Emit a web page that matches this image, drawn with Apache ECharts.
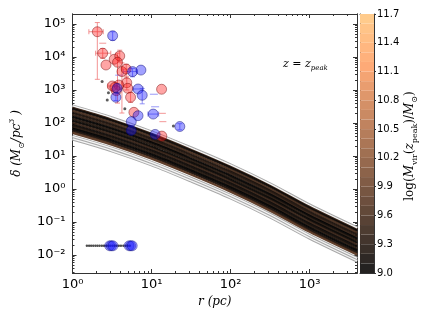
<!DOCTYPE html>
<html><head><meta charset="utf-8">
<script src="https://cdn.jsdelivr.net/npm/echarts@6/dist/echarts.min.js"></script>
<style>html,body{margin:0;padding:0;background:#fff}#c{width:431px;height:323px}</style>
</head><body><div id="c"></div>
<script>
// ---------- data ----------
const radii = [1, 3.2, 10, 32, 100, 320, 1000, 4000];
const darkProfiles = [
  [298,129,49,15.9,4.9,1.29,0.298,0.060],
  [266,115,43.8,14.1,4.38,1.15,0.266,0.054],
  [232,100,38.0,12.3,3.80,0.99,0.232,0.047],
  [201,87,33.0,10.7,3.30,0.87,0.201,0.041],
  [176,75.8,28.9,9.35,2.89,0.76,0.176,0.0355],
  [153,66,25.2,8.1,2.51,0.66,0.153,0.031],
  [133,57.5,21.9,7.1,2.19,0.575,0.133,0.027],
  [116,50,19.0,6.15,1.90,0.50,0.116,0.0235],
  [101,43.5,16.6,5.38,1.66,0.436,0.101,0.0205],
  [88,38,14.5,4.7,1.45,0.38,0.088,0.0178],
  [76.7,33,12.6,4.07,1.26,0.33,0.077,0.0155],
  [66.8,28.8,11.0,3.55,1.10,0.29,0.067,0.0135],
  [58,25,9.55,3.1,0.955,0.25,0.058,0.0118],
  [50.6,21.8,8.3,2.7,0.83,0.218,0.0506,0.0103]
];
const darkMass = [9.5, 9.1, 9.6, 9.2, 9.4, 9.0, 9.3, 9.05, 9.45, 9.1, 9.3, 9.0, 9.2, 9.75];
const lightProfiles = [
  [327,141,53.7,17.4,5.37,1.41,0.327,0.066],
  [39,16.9,6.4,2.08,0.64,0.169,0.039,0.0079],
  [32.7,14.1,5.4,1.74,0.54,0.141,0.0327,0.0066]
];

const redR = [2.06,2.41,2.65,3.37,3.96,3.71,4.22,4.78,4.86,5.0,3.19,3.85,3.57,3.44,5.43,5.98,13.4,13.5];
const redD = [58000,13000,5700,8500,10700,6900,3600,4300,1660,1120,1320,1410,950,1200,600,210,1050,40];
const redErr = [
  [1.61,2.45,2100,110000],[1.96,3.05,9000,18000],[null,null,null,null],[null,null,null,null],
  [null,null,7000,16000],[null,null,400,13000],[null,null,200,6600],[4.2,5.3,2300,6000],
  [null,null,1000,2600],[null,null,null,null],[2.8,3.6,null,null],[null,null,null,null],
  [null,null,null,null],[null,null,null,null],[null,null,420,850],[null,null,null,null],
  [null,null,null,null],[null,null,null,null]
];
const blueR = [3.22,5.75,7.34,6.75,7.62,3.67,3.54,6.75,10.5,5.54,5.54,11.1,22.8];
const blueD = [44000,3600,4000,1070,690,1120,600,166,186,110,59,45,78];
const blueErr = [
  [null,null,32000,58000],[4.4,6.5,2500,4500],[null,null,null,null],[5.8,7.8,null,null],
  [null,null,380,1100],[null,null,800,1500],[null,null,480,760],[null,null,null,null],
  [9.0,12.3,null,null],[null,null,null,null],[null,null,null,null],[null,null,null,null],
  [null,null,62,95]
];
const dotR = [2.37,2.85,2.75,4.59,18.9];
const dotD = [1800,830,500,270,81];
const redDashR = [2.41,13.7,13.9];
const redDashD = [26000,195,110];
const blueDashR = [10.7,11.1,3.9];
const blueDashD = [740,310,2800];
const rowD = 0.019;
const blueRowR = [2.95,3.1,3.25,5.2,5.45,5.7];
const blackRowR = [1.52,1.62,1.72,1.83,1.95,2.07,2.2,2.35,2.5,2.66,2.83,3.0,3.2,3.4,3.6,3.85,4.1,4.4,4.7,5.0,5.3];

const xMajor = [1,10,100,1000];
const xMajorLabels = ['10⁰','10¹','10²','10³'];
const yMajor = [0.01,0.1,1,10,100,1000,10000,100000];
const yMajorLabels = ['10⁻²','10⁻¹','10⁰','10¹','10²','10³','10⁴','10⁵'];
const cbLevels = [9.0,9.1,9.2,9.3,9.4,9.5,9.6,9.7,9.8,9.9,10.0,10.1,10.2,10.3,10.4,10.5,10.6,10.7,10.8,10.9,11.0,11.1,11.2,11.3,11.4,11.5,11.6,11.7];

// ---------- helpers ----------
const X_MIN = 1, X_MAX = 3981, Y_MIN = 0.00285, Y_MAX = 200000;
const MMIN = 9.0, MMAX = 11.7;
function copper(m, alpha) {
  const t = Math.max(0, Math.min(1, (m - MMIN) / (MMAX - MMIN)));
  let r = Math.min(1, 1.25 * t) * 255, g = 0.7812 * t * 255, b = 0.4975 * t * 255;
  if (alpha != null) { r = r*alpha + 255*(1-alpha); g = g*alpha + 255*(1-alpha); b = b*alpha + 255*(1-alpha); }
  return 'rgb(' + Math.round(r) + ',' + Math.round(g) + ',' + Math.round(b) + ')';
}
function minorTicks(lo, hi) {
  const out = [];
  for (let d = Math.floor(Math.log10(lo)) ; d <= Math.ceil(Math.log10(hi)); d++) {
    for (let k = 2; k <= 9; k++) { const v = k * Math.pow(10, d); if (v > lo * 1.001 && v < hi * 0.999) out.push(v); }
  }
  return out;
}
function labelFor(majors, labels) {
  return function (v) {
    for (let i = 0; i < majors.length; i++) if (Math.abs(Math.log10(v) - Math.log10(majors[i])) < 1e-6) return labels[i];
    return '';
  };
}
const AX = '#333';
function mkAxis(type, pos, min, max, ticks, len, withLabel, majors, labels, extra) {
  const a = {
    type: 'log', logBase: 10, min: min, max: max, position: pos, gridIndex: 0,
    axisLine: { show: true, onZero: false, lineStyle: { color: AX, width: 1 } },
    axisTick: { show: true, inside: true, length: len, customValues: ticks, lineStyle: { color: AX, width: 1 } },
    axisLabel: withLabel ? { show: true, customValues: majors, formatter: labelFor(majors, labels),
      fontFamily: 'DejaVu Sans', fontSize: 13, color: '#000', margin: type === 'x' ? 5 : 7 } : { show: false },
    splitLine: { show: false }, minorTick: { show: false }, minorSplitLine: { show: false }
  };
  return Object.assign(a, extra || {});
}
const xMinor = minorTicks(X_MIN, X_MAX);
const yMinor = minorTicks(Y_MIN, Y_MAX);

const xAxes = [
  mkAxis('x','bottom',X_MIN,X_MAX,xMajor,4,true,xMajor,xMajorLabels,{
    name: 'r (pc)', nameLocation: 'middle', nameGap: 21,
    nameTextStyle: { fontFamily: 'DejaVu Serif', fontStyle: 'italic', fontSize: 12, color: '#000' } }),
  mkAxis('x','bottom',X_MIN,X_MAX,xMinor,2,false),
  mkAxis('x','top',X_MIN,X_MAX,xMajor,4,false),
  mkAxis('x','top',X_MIN,X_MAX,xMinor,2,false)
];
const yAxes = [
  mkAxis('y','left',Y_MIN,Y_MAX,yMajor,4,true,yMajor,yMajorLabels,{
    name: '{i|δ (M}{s|⊙}{i|/pc}{p|3}{i| )}', nameLocation: 'middle', nameGap: 37,
    nameTextStyle: { color: '#000', rich: {
      i: { fontFamily: 'DejaVu Serif', fontStyle: 'italic', fontSize: 12, lineHeight: 18, color: '#000' },
      s: { fontFamily: 'DejaVu Sans', fontSize: 8, lineHeight: 10, verticalAlign: 'bottom', color: '#000' },
      p: { fontFamily: 'DejaVu Serif', fontStyle: 'italic', fontSize: 8, lineHeight: 10, verticalAlign: 'top', color: '#000' }
    } } }),
  mkAxis('y','left',Y_MIN,Y_MAX,yMinor,2,false),
  mkAxis('y','right',Y_MIN,Y_MAX,yMajor,4,false),
  mkAxis('y','right',Y_MIN,Y_MAX,yMinor,2,false)
];
// colorbar axes
xAxes.push({ type: 'category', gridIndex: 1, data: ['cb'], position: 'bottom',
  axisLine: { show: true, lineStyle: { color: AX } }, axisTick: { show: false }, axisLabel: { show: false } });
xAxes.push({ type: 'category', gridIndex: 1, data: ['cb'], position: 'top',
  axisLine: { show: true, lineStyle: { color: AX } }, axisTick: { show: false }, axisLabel: { show: false } });
yAxes.push({ type: 'value', gridIndex: 1, min: 9.0, max: 11.7, interval: 0.3, position: 'right',
  axisLine: { show: true, lineStyle: { color: AX } },
  axisTick: { show: true, inside: false, length: 2, lineStyle: { color: AX } },
  axisLabel: { show: true, fontFamily: 'DejaVu Sans', fontSize: 10, color: '#000', margin: 3,
    formatter: v => v.toFixed(1) },
  splitLine: { show: false } });
yAxes.push({ type: 'value', gridIndex: 1, min: 9.0, max: 11.7, interval: 0.3, position: 'left',
  axisLine: { show: true, lineStyle: { color: AX } }, axisTick: { show: false }, axisLabel: { show: false },
  splitLine: { show: false } });

// ---------- series ----------
const series = [];
function pairs(xs, ys) { return xs.map((x, i) => [x, Array.isArray(ys) ? ys[i] : ys]); }
// light outlined profiles (outline layer)
lightProfiles.forEach((p) => {
  series.push({ type: 'line', xAxisIndex: 0, yAxisIndex: 0, data: pairs(radii, p), smooth: 0.3,
    symbol: 'none', silent: true, z: 2, lineStyle: { color: '#a8a8a8', width: 3.2 } });
});
// dark profiles
darkProfiles.forEach((p, i) => {
  series.push({ type: 'line', xAxisIndex: 0, yAxisIndex: 0, data: pairs(radii, p), smooth: 0.3,
    symbol: 'none', silent: true, z: 2,
    lineStyle: { color: copper(darkMass[i]), width: 2.4, opacity: 0.95 } });
});
// light cores
lightProfiles.forEach((p) => {
  series.push({ type: 'line', xAxisIndex: 0, yAxisIndex: 0, data: pairs(radii, p), smooth: 0.3,
    symbol: 'none', silent: true, z: 3, lineStyle: { color: '#f4f4f4', width: 1.3 } });
});
function errRender(errs, color) {
  return function (params, api) {
    const e = errs[params.dataIndex];
    const x = api.value(0), y = api.value(1);
    const st = { stroke: color, lineWidth: 1 };
    const ch = [];
    const cap = 2.5;
    if (e[0] != null) {
      const a = api.coord([e[0], y]), b = api.coord([e[1], y]);
      ch.push({ type: 'line', shape: { x1: a[0], y1: a[1], x2: b[0], y2: b[1] }, style: st });
      ch.push({ type: 'line', shape: { x1: a[0], y1: a[1]-cap, x2: a[0], y2: a[1]+cap }, style: st });
      ch.push({ type: 'line', shape: { x1: b[0], y1: b[1]-cap, x2: b[0], y2: b[1]+cap }, style: st });
    }
    if (e[2] != null) {
      const a = api.coord([x, e[2]]), b = api.coord([x, e[3]]);
      ch.push({ type: 'line', shape: { x1: a[0], y1: a[1], x2: b[0], y2: b[1] }, style: st });
      ch.push({ type: 'line', shape: { x1: a[0]-cap, y1: a[1], x2: a[0]+cap, y2: a[1] }, style: st });
      ch.push({ type: 'line', shape: { x1: b[0]-cap, y1: b[1], x2: b[0]+cap, y2: b[1] }, style: st });
    }
    return { type: 'group', children: ch };
  };
}
series.push({ type: 'custom', xAxisIndex: 0, yAxisIndex: 0, data: pairs(redR, redD), z: 4, silent: true,
  encode: { x: 0, y: 1 }, renderItem: errRender(redErr, 'rgba(240,120,120,0.8)') });
series.push({ type: 'custom', xAxisIndex: 0, yAxisIndex: 0, data: pairs(blueR, blueD), z: 4, silent: true,
  encode: { x: 0, y: 1 }, renderItem: errRender(blueErr, 'rgba(120,120,245,0.8)') });
series.push({ type: 'scatter', xAxisIndex: 0, yAxisIndex: 0, data: pairs(redDashR, redDashD), z: 4, silent: true,
  symbol: 'rect', symbolSize: [7, 1.2], itemStyle: { color: 'rgba(240,120,120,0.8)' } });
series.push({ type: 'scatter', xAxisIndex: 0, yAxisIndex: 0, data: pairs(blueDashR, blueDashD), z: 4, silent: true,
  symbol: 'rect', symbolSize: [8, 1.2], itemStyle: { color: 'rgba(120,120,245,0.8)' } });
series.push({ type: 'scatter', xAxisIndex: 0, yAxisIndex: 0, data: pairs(blackRowR, rowD), z: 5, silent: true,
  symbol: 'circle', symbolSize: 2.4, itemStyle: { color: '#222' } });
series.push({ type: 'scatter', xAxisIndex: 0, yAxisIndex: 0, data: pairs(redR, redD), z: 6, silent: true,
  symbol: 'circle', symbolSize: 10,
  itemStyle: { color: 'rgba(255,30,30,0.5)', borderColor: 'rgba(110,0,0,0.55)', borderWidth: 1 } });
series.push({ type: 'scatter', xAxisIndex: 0, yAxisIndex: 0, data: pairs(blueR, blueD), z: 6, silent: true,
  symbol: 'circle', symbolSize: 10,
  itemStyle: { color: 'rgba(20,20,255,0.5)', borderColor: 'rgba(0,0,110,0.55)', borderWidth: 1 } });
series.push({ type: 'scatter', xAxisIndex: 0, yAxisIndex: 0, data: pairs(blueRowR, rowD), z: 6, silent: true,
  symbol: 'circle', symbolSize: 10,
  itemStyle: { color: 'rgba(20,20,255,0.5)', borderColor: 'rgba(0,0,110,0.45)', borderWidth: 1 } });
series.push({ type: 'scatter', xAxisIndex: 0, yAxisIndex: 0, data: pairs(dotR, dotD), z: 5, silent: true,
  symbol: 'circle', symbolSize: 3, itemStyle: { color: '#333' } });
// colorbar
cbLevels.slice(0, -1).forEach((lo, i) => {
  const hi = cbLevels[i + 1];
  series.push({ type: 'bar', xAxisIndex: 4, yAxisIndex: 4, stack: 'cb', silent: true,
    barWidth: '100%', barCategoryGap: 0,
    data: [i === 0 ? hi : +(hi - lo).toFixed(3)],
    itemStyle: { color: copper((lo + hi) / 2, 0.88) } });
});

const chart = echarts.init(document.getElementById('c'), null, { renderer: 'canvas' });
chart.setOption({
  animation: false,
  backgroundColor: '#fff',
  grid: [
    { left: 62, top: 14, width: 295, height: 259, containLabel: false },
    { left: 360, top: 14, width: 14, height: 259, containLabel: false }
  ],
  xAxis: xAxes,
  yAxis: yAxes,
  series: series,
  graphic: [
    { type: 'text', left: 283, top: 59, silent: true,
      style: { text: '{i|z = z}{s|peak}', rich: {
        i: { fontFamily: 'DejaVu Serif', fontStyle: 'italic', fontSize: 11, lineHeight: 14, fill: '#000' },
        s: { fontFamily: 'DejaVu Serif', fontStyle: 'italic', fontSize: 7, lineHeight: 9, verticalAlign: 'bottom', fill: '#000' } } } },
    { type: 'text', x: 410, y: 146, rotation: Math.PI / 2, silent: true,
      style: { text: '{r|log(}{i|M}{s|vir}{r|(}{i|z}{s|peak}{r|)/}{i|M}{s|⊙}{r|)}', align: 'center', verticalAlign: 'middle',
        rich: {
          r: { fontFamily: 'DejaVu Serif', fontSize: 12, lineHeight: 17, fill: '#000' },
          i: { fontFamily: 'DejaVu Serif', fontStyle: 'italic', fontSize: 12, lineHeight: 17, fill: '#000' },
          s: { fontFamily: 'DejaVu Serif', fontSize: 8, lineHeight: 10, verticalAlign: 'bottom', fill: '#000' } } } }
  ]
});
</script></body></html>
